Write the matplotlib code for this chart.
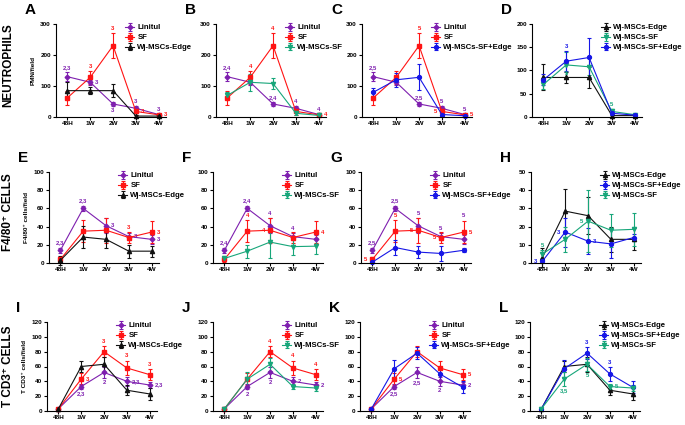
import matplotlib
matplotlib.use("Agg")
import matplotlib.pyplot as plt

plt.rcParams['font.family'] = ['Liberation Sans', 'DejaVu Sans']
plt.rcParams['font.weight'] = 'bold'

# ---------------- data ----------------
timepoints = ["48H", "1W", "2W", "3W", "4W"]

# Neutrophils (PMN/field)
lin_n = [130, 112, 42, 28, 8]
lin_n_err = [15, 8, 6, 8, 3]
sf_n = [62, 128, 230, 18, 7]
sf_n_err = [22, 20, 40, 12, 3]
edge_n = [85, 85, 85, 3, 3]
edge_n_err = [28, 12, 22, 2, 2]
wjsf_n = [70, 112, 108, 12, 5]
wjsf_n_err = [10, 28, 18, 5, 2]
wjse_n = [80, 120, 128, 8, 4]
wjse_n_err = [12, 22, 42, 4, 2]

# F4/80+ cells/field
lin_f = [14, 60, 41, 29, 26]
lin_f_err = [3, 3, 8, 4, 5]
sf_f = [4, 35, 36, 28, 34]
sf_f_err = [3, 12, 14, 6, 12]
edge_f = [3, 28.5, 26, 13, 13]
edge_f_err = [5, 12, 10, 7, 6]
wjsf_f = [5, 13, 23, 18, 18.5]
wjsf_f_err = [2, 7, 17, 9, 9]
wjse_f = [1, 17, 12, 10.5, 14]
wjse_f_err = [1, 8, 7, 8, 2]

# T CD3+ cells/field
lin_t = [3, 33, 52, 40, 35]
lin_t_err = [1, 4, 8, 6, 4]
sf_t = [3, 43, 80, 58, 49]
sf_t_err = [1, 8, 7, 10, 7]
edge_t = [3, 60, 63, 28, 23]
edge_t_err = [1, 7, 10, 7, 8]
wjsf_t = [3, 43, 63, 33, 31]
wjsf_t_err = [1, 9, 9, 4, 4]
wjse_t = [3, 57, 78, 50, 32]
wjse_t_err = [1, 12, 8, 9, 8]

names = {"lin": "Linitul", "sf": "SF", "edge": "Wj-MSCs-Edge",
         "wjsf": "Wj-MSCs-SF", "wjse": "Wj-MSCs-SF+Edge"}
colors = {"lin": "#7E1FAF", "sf": "#FF1414", "edge": "#111111",
          "wjsf": "#17A67A", "wjse": "#1616E6"}
markers = {"lin": "D", "sf": "s", "edge": "^", "wjsf": "v", "wjse": "o"}
msizes = {"lin": 2.4, "sf": 3.0, "edge": 3.0, "wjsf": 3.0, "wjse": 2.8}

data = {
    "n": {"lin": (lin_n, lin_n_err), "sf": (sf_n, sf_n_err), "edge": (edge_n, edge_n_err),
          "wjsf": (wjsf_n, wjsf_n_err), "wjse": (wjse_n, wjse_n_err)},
    "f": {"lin": (lin_f, lin_f_err), "sf": (sf_f, sf_f_err), "edge": (edge_f, edge_f_err),
          "wjsf": (wjsf_f, wjsf_f_err), "wjse": (wjse_f, wjse_f_err)},
    "t": {"lin": (lin_t, lin_t_err), "sf": (sf_t, sf_t_err), "edge": (edge_t, edge_t_err),
          "wjsf": (wjsf_t, wjsf_t_err), "wjse": (wjse_t, wjse_t_err)},
}

# significance annotations: (series, time index, text, placement)
ann = {
    "A": [("lin", 0, "2,3", "above"), ("sf", 1, "3", "above"), ("lin", 1, "3", "right"),
          ("sf", 2, "3", "above"), ("lin", 2, "3", "below"), ("lin", 3, "3", "above"),
          ("sf", 3, "3", "right"), ("lin", 4, "3", "above"), ("sf", 4, "3", "right")],
    "B": [("lin", 0, "2,4", "above"), ("sf", 1, "4", "above"), ("sf", 2, "4", "above"),
          ("lin", 2, "2,4", "above"), ("lin", 3, "4", "above"), ("lin", 4, "4", "above"),
          ("sf", 4, "4", "right")],
    "C": [("lin", 0, "2,5", "above"), ("sf", 2, "5", "above"), ("lin", 2, "2,5", "above"),
          ("lin", 3, "5", "above"), ("sf", 3, "5", "left"), ("lin", 4, "5", "above"),
          ("sf", 4, "5", "right")],
    "D": [("wjse", 1, "3", "above"), ("wjsf", 1, "5", ("c", 0, -6.5)), ("wjsf", 3, "5", "above")],
    "E": [("lin", 0, "2,3", "above"), ("lin", 1, "2,3", "above"), ("lin", 2, "3", "right"),
          ("sf", 3, "3", "above"), ("lin", 3, "3", "right"), ("sf", 4, "3", "right"),
          ("lin", 4, "3", "right")],
    "F": [("lin", 0, "2,4", "above"), ("lin", 1, "2,4", "above"), ("sf", 1, "4", "above"),
          ("lin", 2, "4", "above"), ("sf", 2, "4", "left"), ("lin", 3, "4", "above"),
          ("sf", 4, "4", "right")],
    "G": [("lin", 0, "2,5", "above"), ("sf", 0, "5", "left"), ("lin", 1, "2,5", "above"),
          ("sf", 1, "5", "above"), ("lin", 2, "5", "above"), ("sf", 2, "5", "left"),
          ("lin", 3, "5", "above"), ("sf", 3, "5", "left"), ("lin", 4, "5", ("c", 0, 17)),
          ("sf", 4, "5", "right")],
    "H": [("wjse", 0, "3", "left"), ("wjsf", 0, "5", "above"), ("wjse", 1, "3", "left"),
          ("wjsf", 1, "5", ("c", 0, -1)), ("wjsf", 2, "5", "left"), ("wjse", 2, "3", "right")],
    "I": [("sf", 1, "3", "right"), ("lin", 1, "2,3", "below"), ("sf", 2, "3", "above"),
          ("lin", 2, "2", "below"), ("sf", 3, "3", "above"), ("lin", 3, "2,3", "right"),
          ("sf", 4, "3", "above"), ("lin", 4, "2,3", "right")],
    "J": [("lin", 1, "2", "below"), ("sf", 2, "4", "above"), ("lin", 2, "2", "below"),
          ("sf", 3, "4", "above"), ("lin", 3, "2", "right"), ("sf", 4, "4", "above"),
          ("lin", 4, "2", "right")],
    "K": [("sf", 1, "5", "right"), ("lin", 1, "2,5", "below"), ("lin", 2, "2,5", "below"),
          ("lin", 3, "2", "below"), ("sf", 4, "5", "right"), ("lin", 4, "2", "right")],
    "L": [("wjsf", 1, "3,5", "below"), ("wjse", 2, "3", "above"), ("wjsf", 2, "5", "below"),
          ("wjse", 3, "3", "above"), ("wjsf", 3, "5", "right")],
}

panels = [
    # letter, dataset, series, ymax, ystep, left px, top px
    ("A", "n", ["lin", "sf", "edge"], 300, 100, 56, 24),
    ("B", "n", ["lin", "sf", "wjsf"], 300, 100, 216, 24),
    ("C", "n", ["lin", "sf", "wjse"], 300, 100, 362, 24),
    ("D", "n", ["edge", "wjsf", "wjse"], 200, 50, 532, 24),
    ("E", "f", ["lin", "sf", "edge"], 100, 20, 49, 172),
    ("F", "f", ["lin", "sf", "wjsf"], 100, 20, 213, 172),
    ("G", "f", ["lin", "sf", "wjse"], 100, 20, 361, 172),
    ("H", "f", ["edge", "wjse", "wjsf"], 50, 10, 531, 172),
    ("I", "t", ["lin", "sf", "edge"], 120, 20, 47, 322),
    ("J", "t", ["lin", "sf", "wjsf"], 120, 20, 213, 322),
    ("K", "t", ["lin", "sf", "wjse"], 120, 20, 360, 322),
    ("L", "t", ["edge", "wjse", "wjsf"], 120, 20, 530, 322),
]
row_h = {"n": 93, "f": 91, "t": 89}
ylabels = {"A": "PMN/field", "E": "F4/80\u207a cells/field", "I": "T CD3\u207a cells/field"}

W, H = 685, 425
fig = plt.figure(figsize=(W / 100, H / 100), dpi=100)

for letter, ds, series, ymax, ystep, lpx, tpx in panels:
    hpx = row_h[ds]
    ax = fig.add_axes([lpx / W, 1 - (tpx + hpx) / H, 110 / W, hpx / H])
    x = list(range(len(timepoints)))
    for s in series:
        vals, errs = data[ds][s]
        ax.errorbar(x, vals, yerr=errs, color=colors[s], marker=markers[s],
                    markersize=msizes[s], linewidth=0.8, elinewidth=0.8,
                    capsize=1.6, capthick=0.8, label=names[s], clip_on=False)
    for s, i, txt, where in ann[letter]:
        vals, errs = data[ds][s]
        c = colors[s]
        kw = dict(fontsize=4.3, fontweight='bold', color=c, textcoords='offset points',
                  annotation_clip=False)
        if where == "above":
            ax.annotate(txt, (i, vals[i] + errs[i]), xytext=(0, 1.5), ha='center', va='bottom', **kw)
        elif where == "below":
            ax.annotate(txt, (i, vals[i] - errs[i]), xytext=(0, -1.5), ha='center', va='top', **kw)
        elif where == "right":
            ax.annotate(txt, (i, vals[i]), xytext=(3.5, 0), ha='left', va='center', **kw)
        elif where == "left":
            ax.annotate(txt, (i, vals[i]), xytext=(-3.5, 0), ha='right', va='center', **kw)
        else:
            _, dx, dy = where
            ax.annotate(txt, (i, vals[i]), xytext=(dx, dy), ha='center', va='center', **kw)
    ax.set_xlim(-0.5, 4.32)
    ax.set_ylim(0, ymax)
    ax.set_xticks(x)
    ax.set_xticklabels(timepoints)
    ax.set_yticks(range(0, ymax + 1, ystep))
    for sp in ("top", "right"):
        ax.spines[sp].set_visible(False)
    for sp in ("left", "bottom"):
        ax.spines[sp].set_linewidth(0.8)
    ax.tick_params(axis='both', length=2.2, width=0.8, labelsize=4.6, pad=1.5)
    ax.tick_params(axis='x', pad=1.0)
    for lab in ax.get_xticklabels() + ax.get_yticklabels():
        lab.set_fontweight('bold')
    if letter in ylabels:
        ax.set_ylabel(ylabels[letter], fontsize=4.6, fontweight='bold', labelpad=3)
    leg = ax.legend(loc='upper left', bbox_to_anchor=(0.63, 1.0), frameon=False,
                    fontsize=5.6, handlelength=1.1, handletextpad=0.45,
                    labelspacing=0.32, borderaxespad=0, borderpad=0)
    for t in leg.get_texts():
        t.set_fontweight('bold')
    fig.text((lpx - 31) / W, 1 - (tpx - 14) / H, letter, fontsize=11, fontweight='bold',
             ha='left', va='center')

row_labels = [("NEUTROPHILS", 65), ("F4/80\u207a CELLS", 212), ("T CD3\u207a CELLS", 366)]
for txt, ypx in row_labels:
    fig.text(8 / W, 1 - ypx / H, txt, rotation=90, fontsize=8.5, fontweight='bold',
             ha='center', va='center')

fig.savefig("out.png", dpi=100)
